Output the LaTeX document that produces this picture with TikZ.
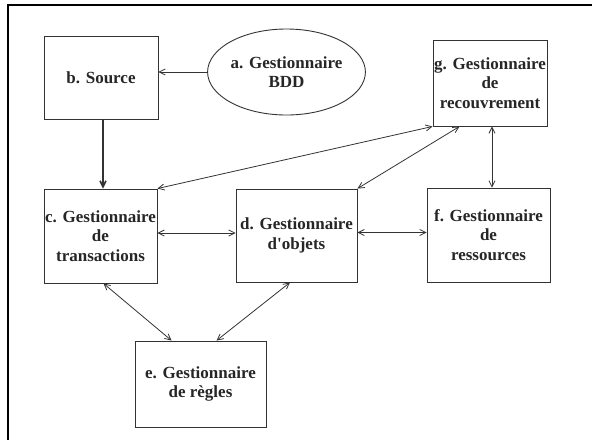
\documentclass[tikz,border=0pt]{standalone}
\usepackage{fontspec}
\setmainfont{Liberation Serif}
\usetikzlibrary{shapes.geometric,arrows.meta,calc}
\begin{document}
\begin{tikzpicture}[x=1pt,y=-1pt,
  lbl/.style={font=\fontsize{17}{19.5}\selectfont\bfseries, align=center, text=black!85, inner sep=0pt},
  boxnode/.style={lbl, draw=black!80, line width=0.9pt, rectangle},
  ellnode/.style={lbl, draw=black!80, line width=0.9pt, ellipse},
  conn/.style={draw=black!80, line width=0.8pt, -{Straight Barb[length=6pt,width=6pt]}},
  bconn/.style={draw=black!80, line width=0.8pt, {Straight Barb[length=6pt,width=6pt]}-{Straight Barb[length=6pt,width=6pt]}}]
\useasboundingbox (0,0) rectangle (592,440);
\draw[line width=2.2pt] (592,5) -- (8,5) -- (8,440);
\node[boxnode, minimum width=114pt, minimum height=83pt] (b) at (101,77.5) {b. Source};
\node[ellnode, minimum width=133pt, minimum height=86pt] (a) at (286.5,72) {a. Gestionnaire\\BDD};
\node[boxnode, minimum width=114pt, minimum height=86pt] (g) at (490,83) {g. Gestionnaire\\de\\recouvrement};
\node[boxnode, minimum width=113pt, minimum height=94pt] (c) at (100.5,236) {c. Gestionnaire\\de\\transactions};
\node[boxnode, minimum width=121pt, minimum height=93pt] (d) at (296.5,235.5) {d. Gestionnaire\\d\textquotesingle objets};
\node[boxnode, minimum width=123pt, minimum height=94pt] (f) at (488.5,235) {f. Gestionnaire\\de\\ressources};
\node[boxnode, minimum width=131pt, minimum height=86pt] (e) at (200.5,384) {e. Gestionnaire\\de règles};
\coordinate (bs) at ($(b.south)+(2,0)$);
\coordinate (gs) at ($(g.south)+(2,0)$);
\coordinate (gs2) at ($(g.south west)+(27,0)$);
\coordinate (ce) at ($(c.east)+(0,-3)$);
\coordinate (de) at ($(d.east)+(0,-3)$);
\coordinate (cs) at ($(c.south)+(3,0)$);
\coordinate (ds) at ($(d.south)+(-6.5,0)$);
\coordinate (en1) at ($(e.north west)+(37,0)$);
\coordinate (en2) at ($(e.north west)+(82,0)$);
\draw[conn] (a.west) -- (a.west -| b.east);
\draw[conn, line width=1.6pt] (bs) -- (bs |- c.north);
\draw[bconn] (c.north east) -- (g.south west);
\draw[bconn] (d.north east) -- (gs2);
\draw[bconn] (gs) -- (gs |- f.north);
\draw[bconn] (ce) -- (ce -| d.west);
\draw[bconn] (de) -- (de -| f.west);
\draw[bconn] (cs) -- (en1);
\draw[bconn] (ds) -- (en2);
\end{tikzpicture}
\end{document}
